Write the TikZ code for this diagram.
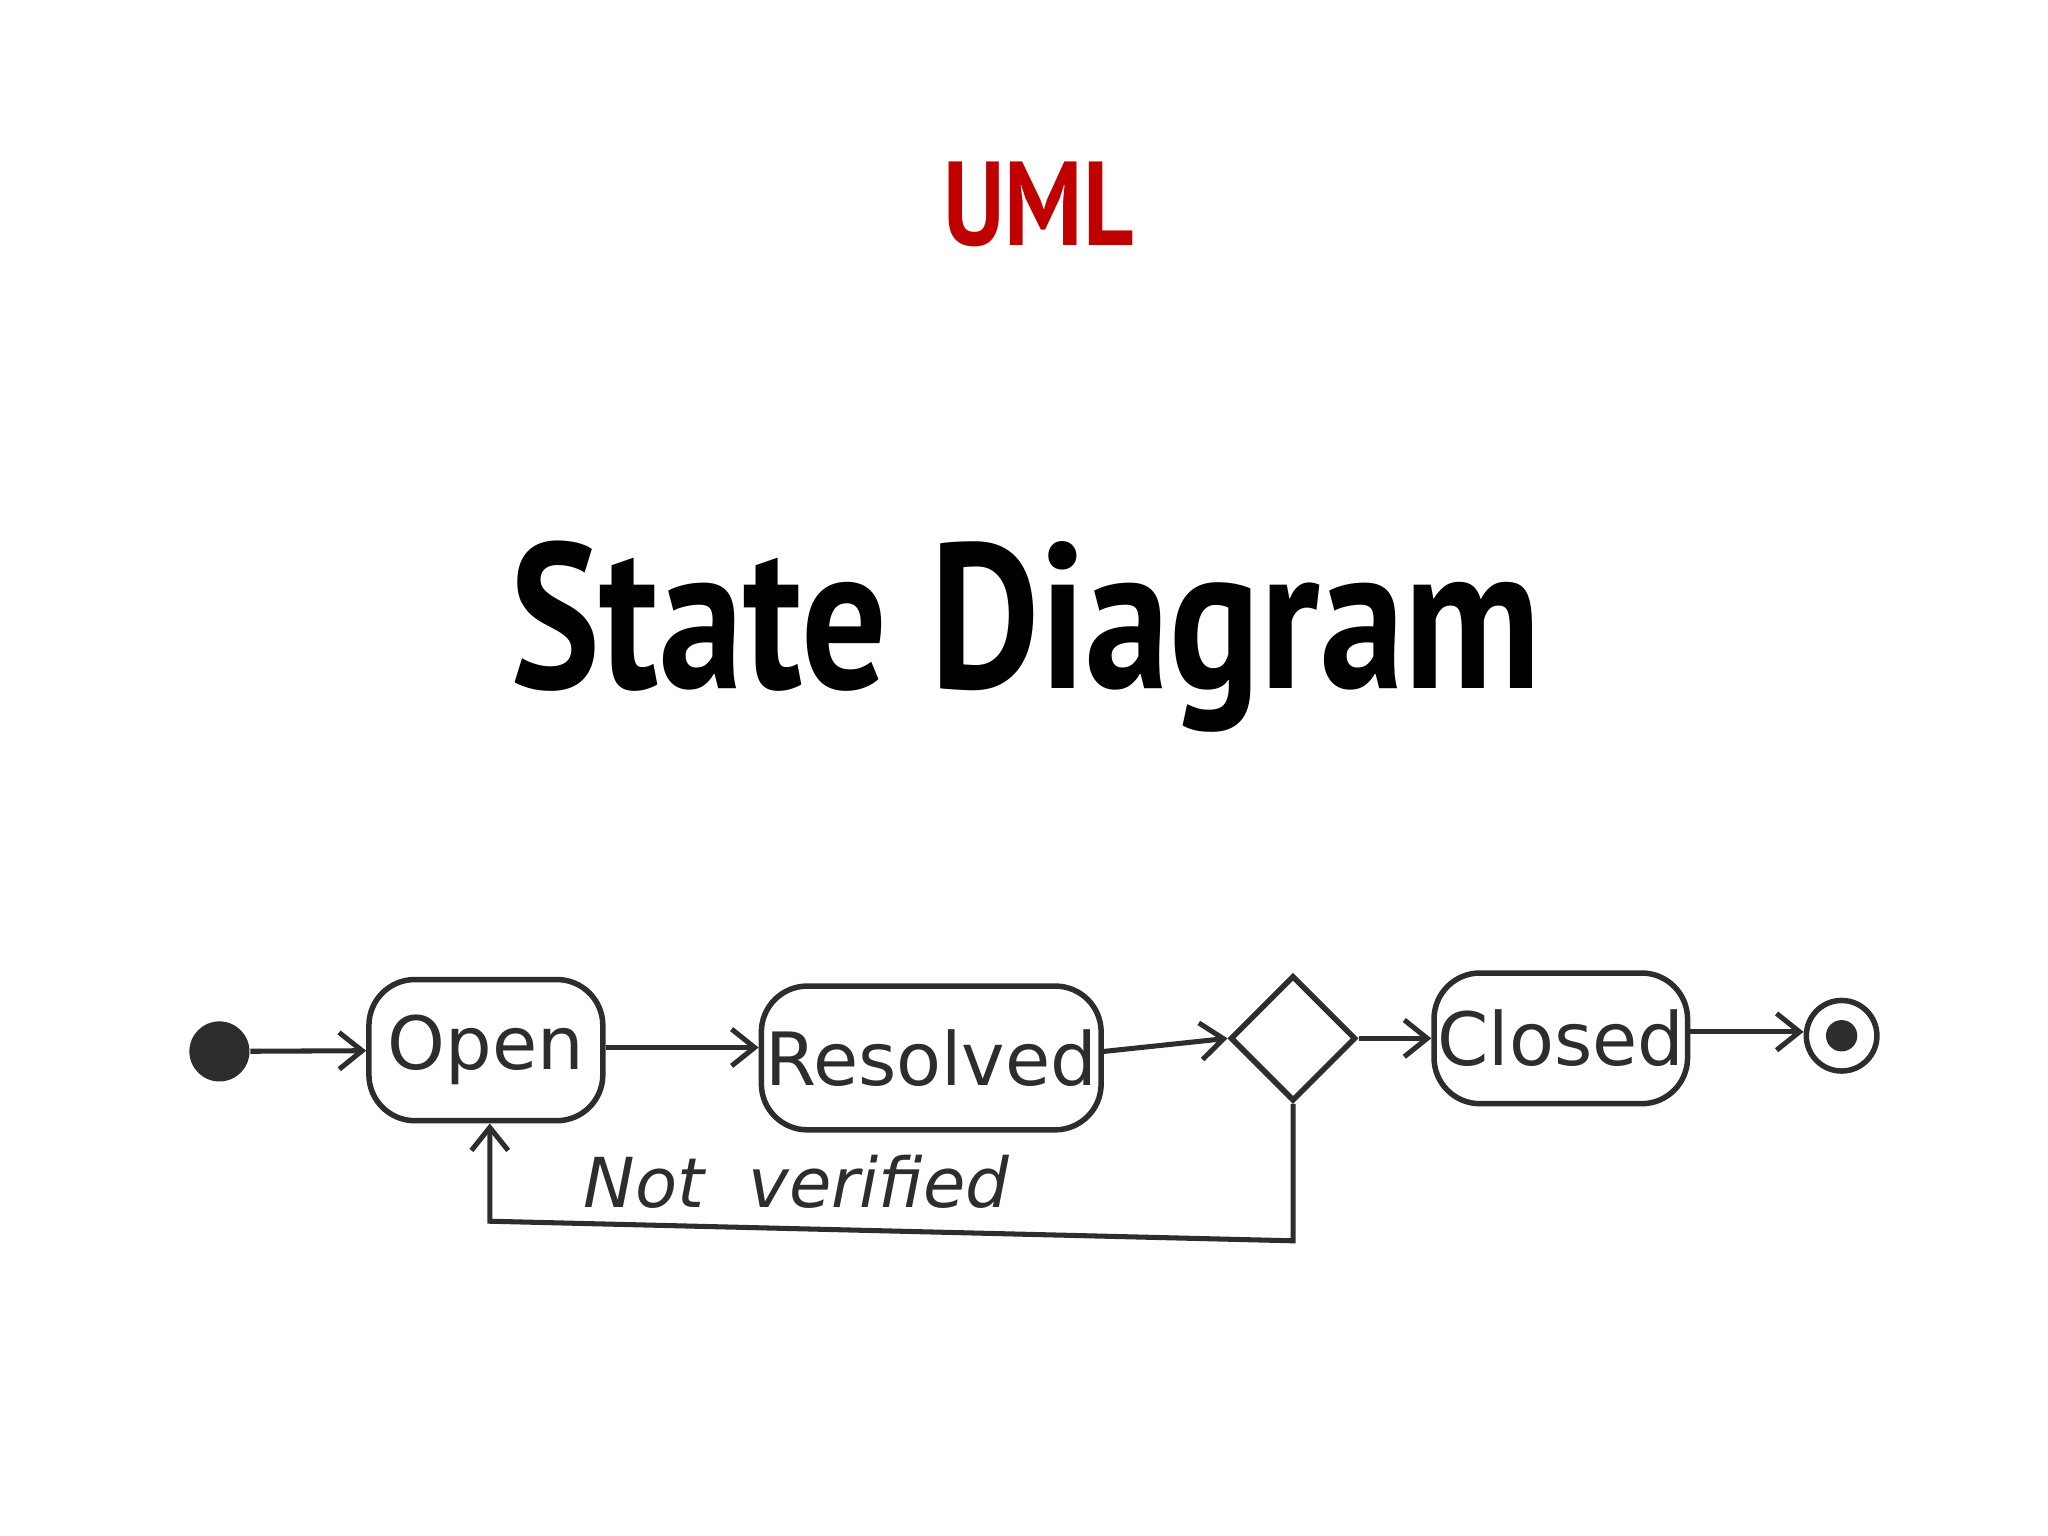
\documentclass[tikz,border=0pt]{standalone}
\usepackage{fontspec}
\setmainfont{PT Sans}
\newfontfamily\hand{DejaVu Sans}
\usetikzlibrary{arrows.meta,shapes.geometric}
\definecolor{umlred}{RGB}{192,0,0}
\definecolor{ink}{RGB}{45,45,45}
\begin{document}
\begin{tikzpicture}[x=0.01cm,y=-0.01cm,
  state/.style={draw=ink,line width=1.2pt,rounded corners=10pt,inner sep=0pt,font=\hand\fontsize{16}{19}\selectfont,text=ink},
  flow/.style={draw=ink,line width=1.1pt,-{Straight Barb[length=5pt,width=8pt]}}]
\useasboundingbox (0,0) rectangle (1568,1176);
\node[anchor=base,text=umlred,font=\bfseries\fontsize{26}{30}\selectfont] (t1) at (795,188) {\scalebox{0.82}[1]{UML}};
\node[anchor=base,font=\bfseries\fontsize{45}{50}\selectfont] (t2) at (785,527) {\scalebox{0.82}[1]{State Diagram}};
\node[circle,fill=ink,minimum size=0.46cm,inner sep=0pt] (init) at (168,805) {};
\node[state,minimum width=1.79cm,minimum height=1.08cm] (open) at (372,804) {Open};
\node[state,minimum width=2.6cm,minimum height=1.1cm] (res) at (713,810) {Resolved};
\node[diamond,draw=ink,line width=1.2pt,minimum width=0.96cm,minimum height=0.96cm,inner sep=0pt] (dec) at (990,795) {};
\node[state,minimum width=1.94cm,minimum height=1.0cm] (clo) at (1195,795) {Closed};
\node[circle,draw=ink,line width=1.2pt,minimum size=0.54cm,inner sep=0pt] (fin) at (1410,793) {};
\node[circle,fill=ink,minimum size=0.24cm,inner sep=0pt] (finin) at (1410,793) {};
\draw[flow] (init) -- (open);
\draw[flow] (open.east |- 0,802) -- (res.west |- 0,802);
\draw[flow] (res.east |- 0,805) -- (dec.west);
\draw[flow] (dec.east) -- (clo.west |- dec.east);
\draw[flow] (clo.east |- 0,790) -- (fin.west |- 0,790);
\coordinate (c1) at (990,950);
\coordinate (c2) at (375,935);
\draw[flow] (dec.south) -- (c1) -- (c2) -- (open.south -| c2);
\node[font=\hand\itshape\fontsize{15}{18}\selectfont,text=ink] (lbl) at (610,905) {Not~~verified};
\end{tikzpicture}
\end{document}
